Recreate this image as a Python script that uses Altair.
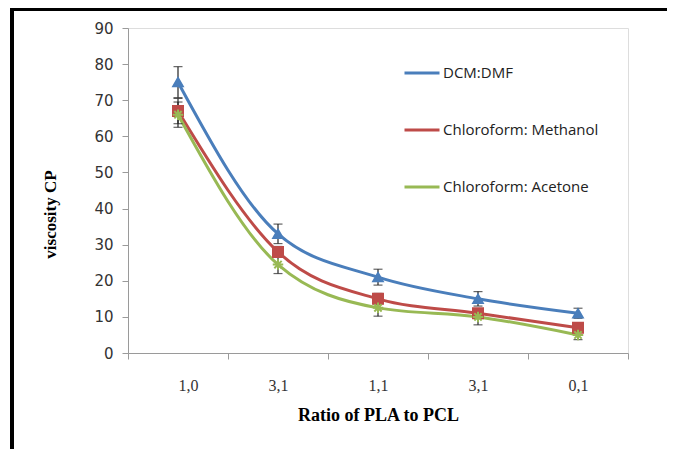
import json
import altair as alt
import pandas as pd

ratios = ["1,0", "3,1", "1,1", "3,1", "0,1"]
series = ["DCM:DMF", "Chloroform: Methanol", "Chloroform: Acetone"]
dcm_dmf = [75, 33, 21, 15, 11]
chl_meth = [67, 28, 15, 11, 7]
chl_acet = [66, 24.5, 12.5, 10, 5]
dcm_err = [4.3, 2.7, 2.2, 2.0, 1.4]
meth_err = [3.5, 1.5, 1.5, 1.0, 1.0]
acet_err = [3.5, 2.5, 2.3, 2.2, 1.3]
colors = ["#4A7EBB", "#BE4B48", "#98B954"]

rows = []
for name, vals, errs in zip(series, [dcm_dmf, chl_meth, chl_acet], [dcm_err, meth_err, acet_err]):
    for i, (v, e) in enumerate(zip(vals, errs)):
        rows.append({"series": name, "marker": name, "pos": i + 0.5, "value": v, "lo": v - e, "hi": v + e})
df = pd.DataFrame(rows)

label_expr = "(" + json.dumps(ratios).replace('"', "'") + ")[datum.value] || ''"

x_scale = alt.Scale(domain=[0, 5], nice=False, zero=False)
x_axis = alt.Axis(
    values=[0, 1, 2, 3, 4, 5],
    labelExpr=label_expr,
    labelOffset=50,
    tickSize=6,
    labelPadding=18,
    grid=False,
    domainColor="#9a9a9a",
    tickColor="#9a9a9a",
    labelFont="Liberation Serif",
    labelFontSize=16,
    labelColor="#333333",
    title="Ratio of PLA to PCL",
    titleFont="Liberation Serif",
    titleFontSize=18,
    titleFontWeight="bold",
    titleColor="#000000",
    titlePadding=13,
)
y_scale = alt.Scale(domain=[0, 90], nice=False)
y_axis = alt.Axis(
    values=list(range(0, 91, 10)),
    labelOverlap=False,
    tickSize=6,
    labelPadding=9,
    grid=False,
    domainColor="#9a9a9a",
    tickColor="#9a9a9a",
    labelFont="DejaVu Sans",
    labelFontSize=15,
    labelColor="#333333",
    title="viscosity CP",
    titleFont="Liberation Serif",
    titleFontSize=17,
    titleFontWeight="bold",
    titleColor="#000000",
    titlePadding=34,
    titleY=186,
)
color_enc = alt.Color(
    "series:N",
    scale=alt.Scale(domain=series, range=colors),
    legend=alt.Legend(
        title=None,
        orient="none",
        legendX=275,
        legendY=26,
        symbolType="stroke",
        symbolSize=1225,
        symbolStrokeWidth=3,
        rowPadding=30,
        labelFont="Open Sans",
        labelFontSize=15,
        labelColor="#222222",
        labelOffset=2,
    ),
)

base = alt.Chart(df)
lines = base.mark_line(interpolate="monotone", strokeWidth=3).encode(
    x=alt.X("pos:Q", scale=x_scale, axis=x_axis),
    y=alt.Y("value:Q", scale=y_scale, axis=y_axis),
    color=color_enc,
)
errs = base.mark_errorbar(ticks=alt.TickConfig(size=9, color="#222222", thickness=1.2), color="#222222", thickness=1.2).encode(
    x=alt.X("pos:Q", scale=x_scale, axis=x_axis),
    y=alt.Y("lo:Q", scale=y_scale, axis=y_axis),
    y2="hi:Q",
)
asterisk = "M-1,0L1,0M0,-1L0,1M-0.7,-0.7L0.7,0.7M-0.7,0.7L0.7,-0.7"
pts = base.mark_point(filled=False, strokeWidth=2, opacity=1).encode(
    x=alt.X("pos:Q", scale=x_scale, axis=x_axis),
    y=alt.Y("value:Q", scale=y_scale, axis=y_axis),
    stroke=alt.Stroke("marker:N", scale=alt.Scale(domain=series, range=colors), legend=None),
    fill=alt.Fill("marker:N", scale=alt.Scale(domain=series, range=["#4A7EBB", "#BE4B48", "transparent"]), legend=None),
    shape=alt.Shape("marker:N", scale=alt.Scale(domain=series, range=["triangle-up", "square", asterisk]), legend=None),
    size=alt.Size("marker:N", scale=alt.Scale(domain=series, range=[90, 110, 90]), legend=None),
)

frame_left = alt.Chart(df).mark_rule(color="#000000", strokeWidth=3).encode(
    x=alt.value(-116), y=alt.value(-20), y2=alt.value(430)
)
frame_top = alt.Chart(df).mark_rule(color="#000000", strokeWidth=3).encode(
    x=alt.value(-117), x2=alt.value(560), y=alt.value(-19)
)
frame_bottom = alt.Chart(df).mark_rule(color="#cccccc", strokeWidth=1).encode(
    x=alt.value(-116), x2=alt.value(560), y=alt.value(427)
)

chart = (
    alt.layer(frame_left, frame_top, frame_bottom, lines, errs, pts)
    .resolve_scale(color="independent", stroke="independent")
    .properties(
        width=500,
        height=325,
        autosize=alt.AutoSizeParams(type="none"),
        padding={"left": 120, "top": 20, "right": 39, "bottom": 96},
    )
    .configure_view(stroke=None)
    .configure(background="white")
)

chart.save("out.html", embed_options={"renderer": "svg", "actions": False})
